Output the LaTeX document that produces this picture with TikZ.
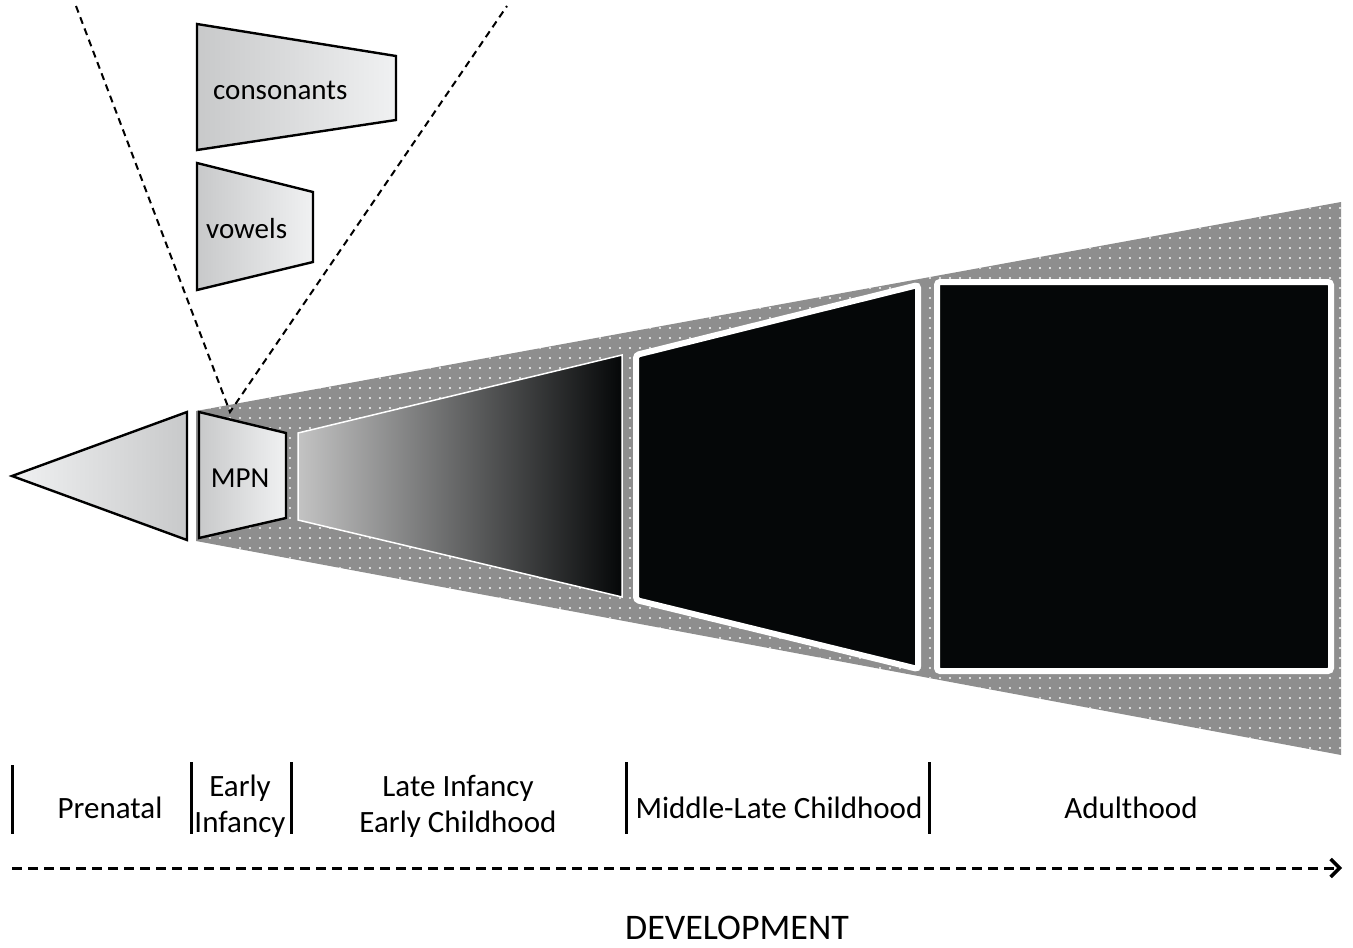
\documentclass[tikz,border=0pt]{standalone}
\usepackage{fontspec}
\setmainfont{Carlito}
\usetikzlibrary{arrows.meta}
\usetikzlibrary{patterns.meta}
\definecolor{conegray}{RGB}{142,142,142}
\definecolor{deepblack}{RGB}{5,7,8}
\definecolor{lightface}{RGB}{240,241,242}
\definecolor{darkface}{RGB}{200,201,202}
\definecolor{midface}{RGB}{195,195,195}

\begin{document}
\begin{tikzpicture}[x=1pt,y=-1pt,
    facet/.style={draw=black, line width=2.4pt, line join=miter},
    blackstage/.style={draw=white, line width=6pt, rounded corners=3pt, fill=deepblack},
    stagetext/.style={font=\fontsize{31}{36}\selectfont, align=center, inner sep=0pt},
    zoomline/.style={black, line width=2pt, dash pattern=on 7pt off 5pt},
    tickbar/.style={black, line width=3pt}]
    \useasboundingbox (0,0) rectangle (1353,948);

    % dotted cone behind the stages
    \path[fill=conegray] (196,411) -- (1341,202) -- (1341,755) -- (196,541) -- cycle;
    \path[pattern={Dots[distance=10pt, radius=1.2pt]}, pattern color=white!92!conegray]
        (196,411) -- (1341,202) -- (1341,755) -- (196,541) -- cycle;

    % zoom lines to the MPN stage
    \coordinate (focus) at (230,412);
    \coordinate (zoomleft) at (76,6);
    \coordinate (zoomright) at (507,6);
    \draw[zoomline] (zoomleft) -- (focus) -- (zoomright);

    % consonants and vowels
    \path[facet, left color=darkface, right color=lightface]
        (197,24) -- (396,56) -- (396,120) -- (197,150) -- cycle;
    \node[stagetext, font=\fontsize{29}{35}\selectfont, anchor=west] (consonants) at (213,90) {consonants};
    \path[facet, left color=darkface, right color=lightface]
        (197,163) -- (313,192) -- (313,262) -- (197,290) -- cycle;
    \node[stagetext, font=\fontsize{29}{35}\selectfont, anchor=west] (vowels) at (206,229) {vowels};

    % developmental stages
    \path[facet, left color=lightface, right color=darkface]
        (12,476) -- (187,412) -- (187,540) -- cycle;
    \path[facet, left color=darkface, right color=lightface]
        (199,412) -- (286,433) -- (286,518) -- (199,538) -- cycle;
    \node[stagetext, font=\fontsize{29}{35}\selectfont] (mpn) at (240,478) {MPN};
    \path[draw=white, line width=1.5pt, left color=midface, right color=deepblack]
        (298,433) -- (622,355) -- (622,597) -- (298,520) -- cycle;
    \path[blackstage] (636,355) -- (918,285) -- (918,669) -- (636,600) -- cycle;
    \path[blackstage] (937,282) rectangle (1331,671);

    % time line
    \foreach \xbar/\ytop in {12/765, 191/762, 291/762, 626/762, 929/762}
        \draw[tickbar] (\xbar,\ytop) -- (\xbar,834);
    \node[stagetext] (prenatal) at (110,808) {Prenatal};
    \node[stagetext] (early) at (240,806) {Early\\Infancy};
    \node[stagetext] (late) at (458,806) {Late Infancy\\Early Childhood};
    \node[stagetext] (middle) at (779,808) {Middle-Late Childhood};
    \node[stagetext] (adult) at (1131,808) {Adulthood};

    \coordinate (start) at (12,868);
    \coordinate (end) at (1342,868);
    \draw[line width=3pt, dash pattern=on 10pt off 6pt,
        -{Straight Barb[length=9pt, width=18pt, line width=3.5pt]}] (start) -- (end);
    \node[font=\fontsize{36}{42}\selectfont, inner sep=0pt] (development) at (737,928) {DEVELOPMENT};
\end{tikzpicture}
\end{document}
